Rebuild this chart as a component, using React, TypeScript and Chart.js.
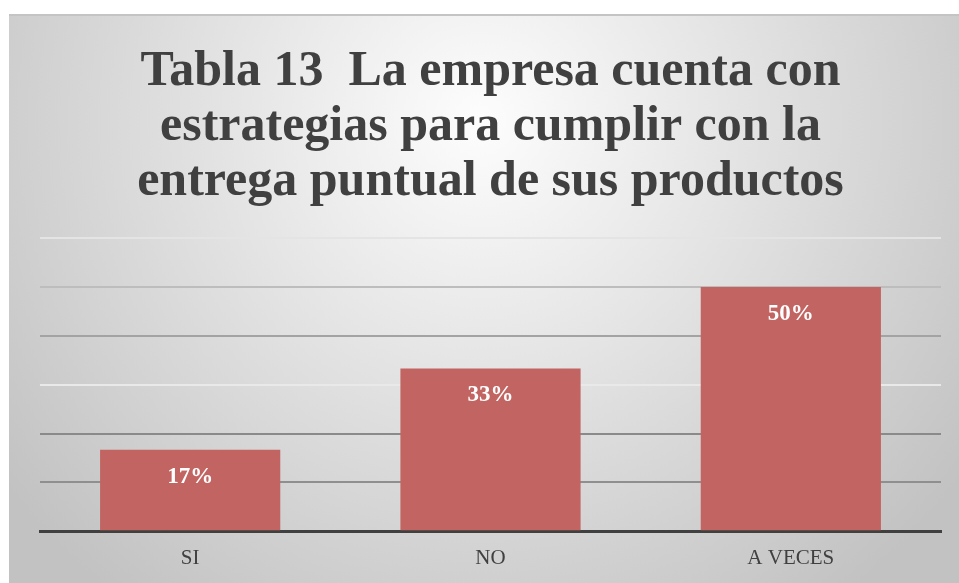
import React, { useEffect, useRef } from "react";
import { Chart, registerables } from "chart.js";

Chart.register(...registerables);

const titleLines = [
  "Tabla 13  La empresa cuenta con",
  "estrategias para cumplir con la",
  "entrega puntual de sus productos",
];
const categories = ["SI", "NO", "A VECES"];
const values = [0.167, 0.333, 0.5];
const valueLabels = ["17%", "33%", "50%"];
const yTicks = [0, 0.1, 0.2, 0.3, 0.4, 0.5, 0.6];

const gridColors: Record<string, string> = {
  "0.1": "#8f8f8f",
  "0.2": "#8a8a8a",
  "0.3": "#e9e9e9",
  "0.4": "#a3a3a3",
  "0.5": "#bdbdbd",
  "0.6": "#e4e4e4",
};

const backgroundPlugin = {
  id: "bgPanel",
  beforeDraw(chart: any) {
    const { ctx, width, height } = chart;
    ctx.save();
    ctx.fillStyle = "#ffffff";
    ctx.fillRect(0, 0, width, height);
    const g = ctx.createRadialGradient(480, 120, 0, 480, 120, 600);
    g.addColorStop(0, "#fdfdfd");
    g.addColorStop(1, "#c2c2c2");
    ctx.fillStyle = g;
    ctx.fillRect(9, 14, width - 9, height - 14);
    ctx.fillStyle = "#c4c4c4";
    ctx.fillRect(9, 14, width - 9, 2);
    ctx.restore();
  },
};

const valueLabelPlugin = {
  id: "valueLabels",
  afterDraw(chart: any) {
    const { ctx } = chart;
    const meta = chart.getDatasetMeta(0);
    ctx.save();
    ctx.font = "bold 23px 'Liberation Serif', serif";
    ctx.fillStyle = "#ffffff";
    ctx.textAlign = "center";
    ctx.textBaseline = "middle";
    meta.data.forEach((bar: any, i: number) => {
      ctx.fillText(valueLabels[i], bar.x, bar.y + 27);
    });
    ctx.restore();
  },
};

export default function App() {
  const ref = useRef<HTMLCanvasElement | null>(null);

  useEffect(() => {
    document.body.style.margin = "0";
    if (!ref.current) return;
    const chart = new Chart(ref.current, {
      type: "bar",
      data: {
        labels: categories,
        datasets: [
          {
            data: values,
            backgroundColor: "#c26461",
            barPercentage: 0.6,
            categoryPercentage: 1,
          },
        ],
      },
      options: {
        responsive: false,
        animation: false,
        layout: { padding: { left: 40, right: 18, top: 0, bottom: -3.5 } },
        plugins: {
          legend: { display: false },
          tooltip: { enabled: false },
          title: {
            display: true,
            text: titleLines,
            color: "#404040",
            font: { family: "'Liberation Serif', serif", size: 50, weight: "bold", lineHeight: 1.1 },
            padding: { top: 45, bottom: 28 },
          },
        },
        scales: {
          x: {
            grid: { display: false, drawTicks: false },
            border: { display: true, color: "#404040", width: 3 },
            ticks: {
              color: "#404040",
              padding: 15,
              font: { family: "'Liberation Serif', serif", size: 21 },
            },
          },
          y: {
            min: 0,
            max: 0.6,
            z: 1,
            afterBuildTicks(scale: any) {
              scale.ticks = yTicks.map((v) => ({ value: v }));
            },
            ticks: { display: false },
            border: { display: false },
            grid: {
              drawTicks: false,
              lineWidth: 2,
              color: (c: any) => {
                const v = c.tick ? c.tick.value : 0;
                return gridColors[v.toFixed(1)] || "rgba(0,0,0,0)";
              },
            },
          },
        },
      },
      plugins: [backgroundPlugin, valueLabelPlugin],
    });
    return () => chart.destroy();
  }, []);

  return (
    <div style={{ width: 959, height: 583 }}>
      <canvas ref={ref} width={959} height={583} />
    </div>
  );
}
